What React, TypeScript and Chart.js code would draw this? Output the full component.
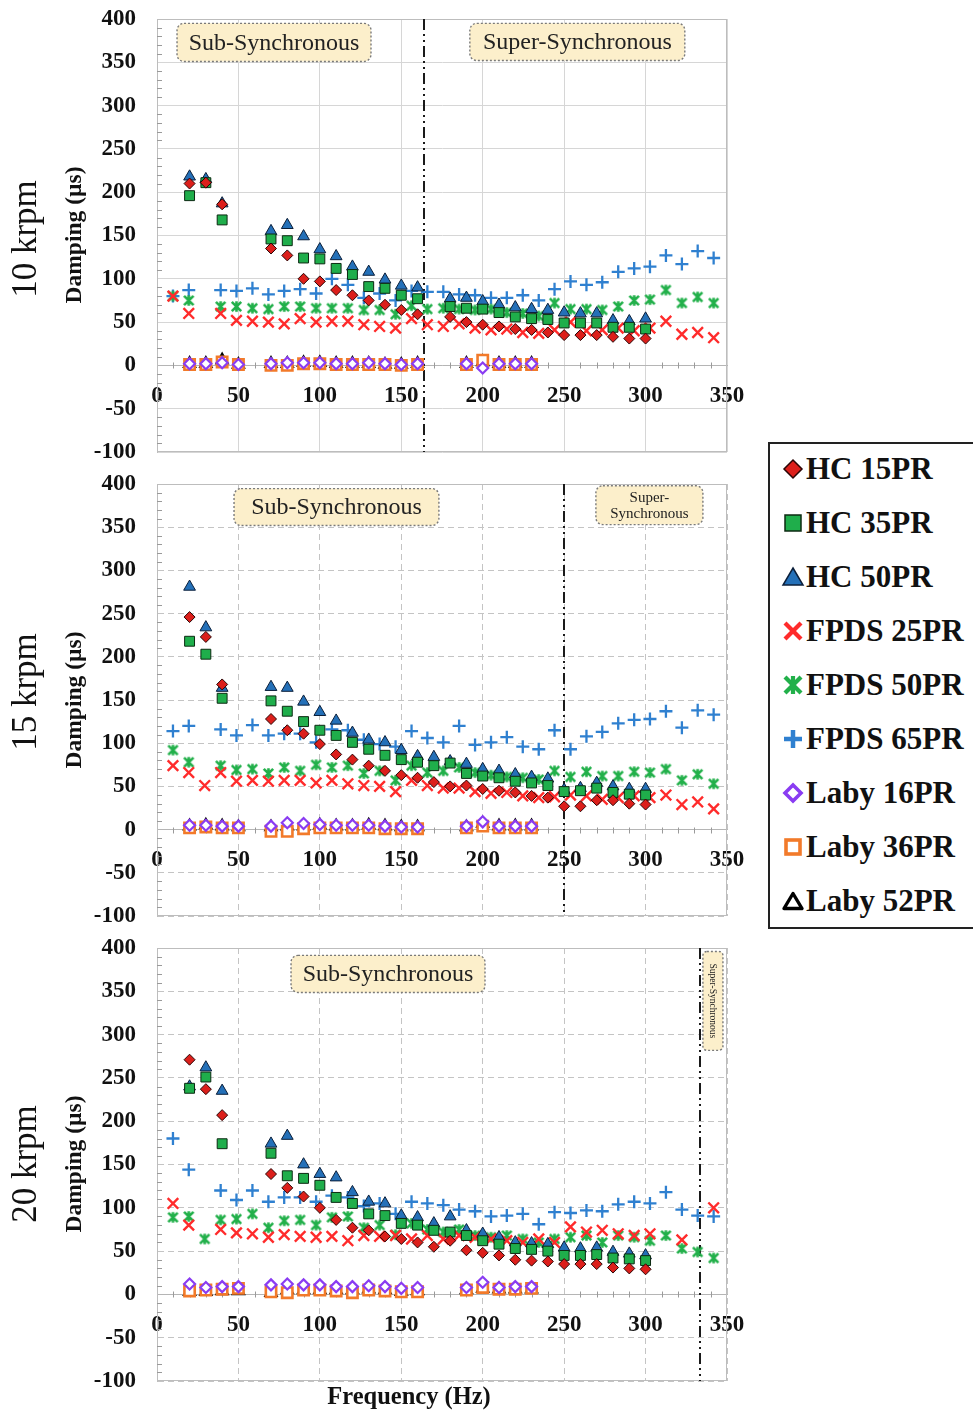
import React, { useEffect, useRef } from 'react';
import { Chart, registerables } from 'chart.js';

Chart.register(...registerables);

const SERIF = '"Liberation Serif", "Times New Roman", Times, serif';

// ---------- frequencies (Hz) ----------
const HC_FREQ_10K = [20, 30, 40, 70, 80, 90, 100, 110, 120, 130, 140, 150, 160, 180, 190, 200, 210, 220, 230, 240, 250, 260, 270, 280, 290, 300];
const HC_FREQ_15K = [20, 30, 40, 70, 80, 90, 100, 110, 120, 130, 140, 150, 160, 170, 180, 190, 200, 210, 220, 230, 240, 250, 260, 270, 280, 290, 300];
const HC_FREQ_20K = [20, 30, 40, 70, 80, 90, 100, 110, 120, 130, 140, 150, 160, 170, 180, 190, 200, 210, 220, 230, 240, 250, 260, 270, 280, 290, 300];
const FPDS_FREQ = [9.8, 19.5, 29.3, 39.1, 48.8, 58.6, 68.4, 78.1, 87.9, 97.7, 107.4, 117.2, 127.0, 136.7, 146.5, 156.3, 166.0, 175.8, 185.5, 195.3, 205.1, 214.8, 224.6, 234.4, 244.1, 253.9, 263.7, 273.4, 283.2, 293.0, 302.7, 312.5, 322.3, 332.0, 341.8];
const LABY_FREQ = [20, 30, 40, 50, 70, 80, 90, 100, 110, 120, 130, 140, 150, 160, 190, 200, 210, 220, 230];

// ---------- 10 krpm damping (µs) ----------
const HC15_10K = [210, 211, 186, 135, 127, 100, 97, 87, 81, 75, 70, 64, 59, 56, 50, 47, 45, 42, 41, 38, 35, 35, 35, 33, 31, 31];
const HC35_10K = [196, 211, 168, 146, 144, 124, 123, 112, 105, 91, 89, 81, 77, 68, 66, 65, 61, 56, 54, 53, 49, 49, 49, 44, 44, 42];
const HC50_10K = [218, 215, 187, 155, 162, 149, 134, 126, 114, 108, 99, 92, 90, 77, 78, 74, 70, 67, 65, 64, 61, 60, 60, 52, 51, 54];
const F25_10K = [80, 60, null, 60, 52, 51, 50, 48, 54, 50, 51, 51, 47, 45, 43, 54, 47, 45, 48, 43, 41, 42, 38, 37, 41, 50, 40, 41, 43, 40, 43, 51, 36, 38, 32];
const F50_10K = [80, 75, null, 68, 68, 66, 65, 68, 68, 66, 66, 66, 64, 64, 59, 69, 65, 66, 65, 64, 65, 61, 60, 57, 72, 65, 65, 64, 68, 75, 76, 87, 72, 79, 72];
const F65_10K = [80, 87, null, 87, 86, 89, 82, 86, 88, 83, 100, 93, 78, 83, 75, 86, 85, 85, 82, 81, 78, 78, 81, 75, 88, 97, 93, 96, 108, 112, 114, 127, 117, 132, 124];
const L16_10K = [2, 2, 3, 1, 2, 3, 3, 3, 2, 2, 3, 2, 1, 2, 2, -3, 2, 2, 2];
const L36_10K = [1, 1, 4, 1, 0, 0, 2, 2, 1, 1, 1, 1, 0, 1, 1, 6, 1, 1, 1];
const L52_10K = [2, 2, 6, 1, 2, 2, 3, 3, 2, 2, 2, 1, 1, 2, 2, 4, 2, 2, 2];

// ---------- 15 krpm ----------
const HC15_15K = [246, 223, 168, 128, 115, 111, 99, 87, 81, 74, 68, 63, 60, 55, 50, 51, 47, 45, 43, 39, 37, 27, 27, 34, 34, 30, 29];
const HC35_15K = [218, 203, 152, 149, 137, 125, 115, 109, 101, 93, 86, 81, 78, 74, 77, 65, 62, 60, 56, 54, 51, 44, 45, 48, 43, 41, 40];
const HC50_15K = [281, 234, 164, 165, 164, 148, 136, 126, 112, 104, 101, 92, 85, 84, 79, 76, 70, 68, 64, 61, 59, 46, 48, 54, 50, 47, 47];
const F25_15K = [74, 66, 51, 66, 56, 57, 56, 57, 57, 54, 57, 53, 51, 50, 44, 57, 51, 48, 48, 44, 42, 43, 39, 37, 38, 40, 39, 35, 37, 39, 37, 40, 29, 32, 24];
const F50_15K = [92, 78, null, 74, 69, 70, 65, 72, 68, 75, 72, 74, 65, 68, 57, 74, 66, 68, 72, 66, 63, 61, 60, 58, 68, 61, 67, 62, 62, 67, 66, 70, 57, 64, 53];
const F65_15K = [114, 120, null, 116, 109, 121, 109, 111, 111, 101, 116, 115, 104, 99, 96, 114, 106, 101, 120, 98, 101, 107, 96, 93, 115, 93, 108, 113, 123, 127, 128, 137, 118, 138, 133];
const L16_15K = [5, 5, 4, 4, 4, 8, 7, 6, 5, 5, 5, 4, 3, 3, 4, 9, 4, 4, 4];
const L36_15K = [2, 3, 2, 2, -2, -2, 1, 2, 2, 2, 2, 1, 1, 1, 2, 4, 2, 2, 2];
const L52_15K = [4, 5, 4, 3, 3, 4, 4, 5, 4, 4, 5, 4, 3, 3, 3, 7, 4, 4, 4];

// ---------- 20 krpm ----------
const HC15_20K = [271, 237, 207, 139, 123, 113, 100, 86, 77, 74, 67, 64, 60, 55, 62, 51, 48, 45, 40, 39, 38, 35, 35, 35, 31, 30, 29];
const HC35_20K = [238, 251, 174, 163, 137, 134, 126, 112, 105, 93, 91, 82, 80, 74, 72, 68, 62, 58, 53, 52, 50, 45, 45, 46, 42, 41, 39];
const HC50_20K = [240, 262, 235, 174, 183, 150, 139, 135, 118, 107, 105, 91, 89, 82, 90, 74, 70, 66, 60, 59, 58, 54, 53, 54, 49, 47, 45];
const F25_20K = [105, 80, null, 75, 71, 70, 66, 69, 67, 66, 67, 62, 68, 67, 68, 64, 68, 64, 68, 66, 64, 62, 60, 64, 60, 78, 72, 74, 70, 68, 70, null, 63, null, 100];
const F50_20K = [89, 90, 64, 86, 87, 93, 77, 85, 86, 80, 89, 90, 77, 80, 69, 82, 75, 72, 75, 68, 66, 68, 64, 60, 64, 66, 68, 60, 68, 66, 62, 68, 53, 49, 42];
const F65_20K = [180, 144, null, 120, 109, 120, 107, 112, 112, 107, 114, 112, 102, 105, 93, 107, 105, 103, 98, 96, 90, 91, 93, 81, 95, 94, 97, 96, 104, 107, 105, 118, 98, 91, 90];
const L16_20K = [12, 8, 9, 9, 11, 12, 11, 11, 9, 9, 10, 9, 7, 8, 8, 14, 8, 9, 9];
const L36_20K = [4, 5, 6, 7, 3, 2, 5, 5, 4, 2, 5, 4, 3, 3, 5, 8, 6, 6, 7];
const L52_20K = [3, 3, 4, 4, 2, 5, 5, 5, 5, 5, 6, 5, 3, 4, 5, 7, 6, 6, 6];

const SERIES_LABELS = ['HC 15PR', 'HC 35PR', 'HC 50PR', 'FPDS 25PR', 'FPDS 50PR', 'FPDS 65PR', 'Laby 16PR', 'Laby 36PR', 'Laby 52PR'];
const SPEED_LABELS = ['10 krpm', '15 krpm', '20 krpm'];
const SYNC_FREQ = [164, 250, 333.3];

// ---------- styles ----------
const RED = '#dc1f1b';
const GREEN = '#1fae4b';
const BLUE = '#2470b8';
const X_RED = '#ff2b2b';
const STAR_GREEN = '#22b04a';
const PLUS_BLUE = '#2f80d0';
const PURPLE = '#8a3cf2';
const ORANGE = '#f27a2a';

function makeStar(color: string, size: number, lw: number) {
  const c = document.createElement('canvas');
  c.width = size;
  c.height = size;
  const g = c.getContext('2d')!;
  const m = lw / 2 + 0.5;
  g.strokeStyle = color;
  g.lineWidth = lw;
  g.lineCap = 'butt';
  g.beginPath();
  g.moveTo(m, m); g.lineTo(size - m, size - m);
  g.moveTo(size - m, m); g.lineTo(m, size - m);
  g.moveTo(size / 2, m - 0.5); g.lineTo(size / 2, size - m + 0.5);
  g.stroke();
  return c;
}

function seriesStyles(star: HTMLCanvasElement) {
  return [
    { pointStyle: 'rectRot', pointRadius: 5.5, backgroundColor: RED, borderColor: '#2a0505', borderWidth: 1 },
    { pointStyle: 'rect', pointRadius: 7, backgroundColor: GREEN, borderColor: '#0c2a12', borderWidth: 1 },
    { pointStyle: 'triangle', pointRadius: 6.8, backgroundColor: BLUE, borderColor: '#0b1f3a', borderWidth: 1 },
    { pointStyle: 'crossRot', pointRadius: 7.5, backgroundColor: X_RED, borderColor: X_RED, borderWidth: 2.4 },
    { pointStyle: star, pointRadius: 6, backgroundColor: STAR_GREEN, borderColor: STAR_GREEN, borderWidth: 2 },
    { pointStyle: 'cross', pointRadius: 6.5, backgroundColor: PLUS_BLUE, borderColor: PLUS_BLUE, borderWidth: 2.3 },
    { pointStyle: 'rectRot', pointRadius: 5.5, backgroundColor: '#ffffff', borderColor: PURPLE, borderWidth: 2.2 },
    { pointStyle: 'rect', pointRadius: 7.3, backgroundColor: '#ffffff', borderColor: ORANGE, borderWidth: 2.6 },
    { pointStyle: 'triangle', pointRadius: 6.3, backgroundColor: '#ffffff', borderColor: '#000000', borderWidth: 2.3 },
  ];
}

type AnnBox = { x0: number; x1: number; y0: number; y1: number; lines: string[]; size: number; vertical?: boolean };

const PANELS = [
  {
    top: 0, height: 470, padTop: 19, padBottom: 18, dashed: false, speedOffset: 220, xTitle: false,
    freq: [HC_FREQ_10K, HC_FREQ_10K, HC_FREQ_10K, FPDS_FREQ, FPDS_FREQ, FPDS_FREQ, LABY_FREQ, LABY_FREQ, LABY_FREQ],
    values: [HC15_10K, HC35_10K, HC50_10K, F25_10K, F50_10K, F65_10K, L16_10K, L36_10K, L52_10K],
    boxes: [
      { x0: 12.3, x1: 131.4, y0: 351, y1: 395, lines: ['Sub-Synchronous'], size: 24 },
      { x0: 192.1, x1: 324.1, y0: 352, y1: 395, lines: ['Super-Synchronous'], size: 24 },
    ] as AnnBox[],
  },
  {
    top: 465, height: 470, padTop: 19, padBottom: 19, dashed: true, speedOffset: 208, xTitle: false,
    freq: [HC_FREQ_15K, HC_FREQ_15K, HC_FREQ_15K, FPDS_FREQ, FPDS_FREQ, FPDS_FREQ, LABY_FREQ, LABY_FREQ, LABY_FREQ],
    values: [HC15_15K, HC35_15K, HC50_15K, F25_15K, F50_15K, F65_15K, L16_15K, L36_15K, L52_15K],
    boxes: [
      { x0: 47.3, x1: 173.1, y0: 352, y1: 394.7, lines: ['Sub-Synchronous'], size: 24 },
      { x0: 269.5, x1: 335.2, y0: 353, y1: 398, lines: ['Super-', 'Synchronous'], size: 15 },
    ] as AnnBox[],
  },
  {
    top: 929, height: 485, padTop: 19, padBottom: 33, dashed: true, speedOffset: 216, xTitle: true,
    freq: [HC_FREQ_20K, HC_FREQ_20K, HC_FREQ_20K, FPDS_FREQ, FPDS_FREQ, FPDS_FREQ, LABY_FREQ, LABY_FREQ, LABY_FREQ],
    values: [HC15_20K, HC35_20K, HC50_20K, F25_20K, F50_20K, F65_20K, L16_20K, L36_20K, L52_20K],
    boxes: [
      { x0: 82.3, x1: 201.4, y0: 348.7, y1: 391.5, lines: ['Sub-Synchronous'], size: 24 },
      { x0: 335.2, x1: 347.5, y0: 281.8, y1: 396, lines: ['Super-Synchronous'], size: 9.5, vertical: true },
    ] as AnnBox[],
  },
];

const decorPlugin = {
  id: 'decor',
  beforeDatasetsDraw(chart: any, _args: any, o: any) {
    const { ctx, chartArea: a, scales } = chart;
    const xs = scales.x;
    const ys = scales.y;
    ctx.save();
    ctx.setLineDash([]);
    ctx.lineWidth = 1;
    ctx.strokeStyle = '#bdbdbd';
    ctx.strokeRect(a.left + 0.5, a.top + 0.5, a.right - a.left - 1, a.bottom - a.top - 1);
    ctx.strokeStyle = '#9a9a9a';
    ctx.beginPath();
    for (let v = -90; v < 400; v += 10) {
      if (v % 50 === 0) continue;
      const py = Math.round(ys.getPixelForValue(v)) + 0.5;
      ctx.moveTo(a.left, py);
      ctx.lineTo(a.left + 5, py);
    }
    const y0 = Math.round(ys.getPixelForValue(0)) + 0.5;
    for (let v = 10; v < 350; v += 10) {
      if (v % 50 === 0) continue;
      const px = Math.round(xs.getPixelForValue(v)) + 0.5;
      ctx.moveTo(px, y0 - 3);
      ctx.lineTo(px, y0 + 3);
    }
    ctx.stroke();
    const sx = Math.round(xs.getPixelForValue(o.sync));
    ctx.setLineDash([11, 4, 2, 4, 2, 4]);
    ctx.lineWidth = 2;
    ctx.strokeStyle = '#1a1a1a';
    ctx.beginPath();
    ctx.moveTo(sx, a.top);
    ctx.lineTo(sx, a.bottom);
    ctx.stroke();
    ctx.restore();
  },
  afterDraw(chart: any, _args: any, o: any) {
    const { ctx, chartArea: a, scales } = chart;
    const xs = scales.x;
    const ys = scales.y;
    ctx.save();
    for (const b of o.boxes as AnnBox[]) {
      const x1 = xs.getPixelForValue(b.x0);
      const x2 = xs.getPixelForValue(b.x1);
      const y1 = ys.getPixelForValue(b.y1);
      const y2 = ys.getPixelForValue(b.y0);
      ctx.beginPath();
      ctx.roundRect(x1, y1, x2 - x1, y2 - y1, b.vertical ? 4 : 7);
      ctx.fillStyle = '#fcefcb';
      ctx.fill();
      ctx.setLineDash([2, 2]);
      ctx.lineWidth = 1.4;
      ctx.strokeStyle = '#7a7a7a';
      ctx.stroke();
      ctx.setLineDash([]);
      ctx.fillStyle = '#222';
      ctx.font = `${b.size}px ${SERIF}`;
      ctx.textAlign = 'center';
      ctx.textBaseline = 'middle';
      const cx = (x1 + x2) / 2;
      const cy = (y1 + y2) / 2;
      if (b.vertical) {
        ctx.save();
        ctx.translate(cx, cy);
        ctx.rotate(Math.PI / 2);
        ctx.fillText(b.lines[0], 0, 0);
        ctx.restore();
      } else {
        const lh = b.size * 1.1;
        b.lines.forEach((t, i) => {
          ctx.fillText(t, cx, cy + (i - (b.lines.length - 1) / 2) * lh + 1);
        });
      }
    }
    ctx.fillStyle = '#111';
    ctx.textAlign = 'center';
    ctx.textBaseline = 'middle';
    ctx.save();
    ctx.translate(27, a.top + o.speedOffset);
    ctx.rotate(-Math.PI / 2);
    ctx.font = `35px ${SERIF}`;
    ctx.fillText(o.speed, 0, 0);
    ctx.restore();
    ctx.save();
    ctx.translate(75, a.top + 216);
    ctx.rotate(-Math.PI / 2);
    ctx.font = `bold 23.5px ${SERIF}`;
    ctx.fillText('Damping (µs)', 0, 0);
    ctx.restore();
    if (o.xTitle) {
      ctx.font = `bold 24.5px ${SERIF}`;
      ctx.fillText('Frequency (Hz)', 409, a.bottom + 17);
    }
    ctx.restore();
  },
};

function Panel({ index }: { index: number }) {
  const ref = useRef<HTMLCanvasElement>(null);
  const p = PANELS[index];
  useEffect(() => {
    const star = makeStar(STAR_GREEN, 13, 2.6);
    const styles = seriesStyles(star);
    const gridColor = p.dashed ? '#c4c4c4' : '#d6d6d6';
    const datasets = SERIES_LABELS.map((label, i) => ({
      label,
      data: p.freq[i]
        .map((x, j) => ({ x, y: p.values[i][j] }))
        .filter((d) => d.y !== null && d.y !== undefined),
      showLine: false,
      ...styles[i],
    }));
    const chart = new Chart(ref.current as HTMLCanvasElement, {
      type: 'scatter',
      data: { datasets: datasets as any },
      options: {
        responsive: false,
        animation: false,
        events: [],
        layout: { padding: { left: 0, right: 33, top: p.padTop, bottom: p.padBottom } },
        plugins: {
          legend: { display: false },
          tooltip: { enabled: false },
          decor: { sync: SYNC_FREQ[index], speed: SPEED_LABELS[index], speedOffset: p.speedOffset, boxes: p.boxes, xTitle: p.xTitle },
        } as any,
        scales: {
          x: {
            type: 'linear',
            min: 0,
            max: 350,
            position: { y: 0 } as any,
            afterFit: (s: any) => { s.height = 0; s.paddingLeft = 0; s.paddingRight = 0; },
            ticks: { stepSize: 50, color: '#111', padding: 17, maxRotation: 0, autoSkip: false, font: { family: SERIF, size: 23, weight: 'bold' } },
            grid: { color: gridColor, lineWidth: 1, drawTicks: false },
            border: { display: true, color: '#b5b5b5', width: 1, dash: p.dashed ? [6, 4] : [] },
          },
          y: {
            type: 'linear',
            min: -100,
            max: 400,
            afterFit: (s: any) => { s.width = 157; s.paddingTop = 0; s.paddingBottom = 0; },
            ticks: { stepSize: 50, color: '#111', padding: 21, font: { family: SERIF, size: 23, weight: 'bold' } },
            grid: { color: gridColor, lineWidth: 1, drawTicks: false },
            border: { display: true, color: '#bdbdbd', width: 1, dash: p.dashed ? [6, 4] : [] },
          },
        },
      },
      plugins: [decorPlugin],
    });
    return () => chart.destroy();
  }, []);
  return (
    <canvas
      ref={ref}
      width={760}
      height={p.height}
      style={{ position: 'absolute', left: 0, top: p.top, width: 760, height: p.height }}
    />
  );
}

function LegendMarker({ i }: { i: number }) {
  const s = 24;
  let el: any = null;
  switch (i) {
    case 0: el = <polygon points="12,3 21,12 12,21 3,12" fill={RED} stroke="#2a0505" strokeWidth={1.5} />; break;
    case 1: el = <rect x={4} y={4} width={16} height={16} fill={GREEN} stroke="#0c2a12" strokeWidth={1.5} />; break;
    case 2: el = <polygon points="12,3 22,20 2,20" fill={BLUE} stroke="#0b1f3a" strokeWidth={1.5} />; break;
    case 3: el = (<g stroke={X_RED} strokeWidth={4.2}><line x1={4} y1={4} x2={20} y2={20} /><line x1={20} y1={4} x2={4} y2={20} /></g>); break;
    case 4: el = (<g stroke={STAR_GREEN} strokeWidth={4.2}><line x1={4} y1={4} x2={20} y2={20} /><line x1={20} y1={4} x2={4} y2={20} /><line x1={12} y1={3} x2={12} y2={21} /></g>); break;
    case 5: el = (<g stroke={PLUS_BLUE} strokeWidth={4.5}><line x1={12} y1={3} x2={12} y2={21} /><line x1={3} y1={12} x2={21} y2={12} /></g>); break;
    case 6: el = <polygon points="12,4 20,12 12,20 4,12" fill="#fff" stroke={PURPLE} strokeWidth={3.6} />; break;
    case 7: el = <rect x={5} y={5} width={14} height={14} fill="#fff" stroke={ORANGE} strokeWidth={3.6} />; break;
    default: el = <polygon points="12,4.5 21,19.5 3,19.5" fill="#fff" stroke="#000" strokeWidth={3.4} strokeLinejoin="round" />;
  }
  return (
    <svg width={s} height={s} viewBox="0 0 24 24" style={{ position: 'absolute', left: 11, top: -12 }}>
      {el}
    </svg>
  );
}

function Legend() {
  return (
    <div style={{ position: 'absolute', left: 768, top: 442, width: 205, height: 487, overflow: 'hidden' }}>
      <div style={{ position: 'absolute', left: 0, top: 0, width: 230, height: 487, border: '2px solid #222', boxSizing: 'border-box', background: '#fff' }}>
        {SERIES_LABELS.map((label, i) => (
          <div key={label} style={{ position: 'absolute', left: 0, top: 25 + 54 * i, width: 230, height: 0 }}>
            <LegendMarker i={i} />
            <span
              style={{
                position: 'absolute',
                left: 36,
                top: -18,
                height: 36,
                lineHeight: '36px',
                fontFamily: SERIF,
                fontWeight: 'bold',
                fontSize: 31,
                color: '#111',
                whiteSpace: 'nowrap',
              }}
            >
              {label}
            </span>
          </div>
        ))}
      </div>
    </div>
  );
}

export default function App() {
  return (
    <div style={{ position: 'absolute', left: 0, top: 0, width: 973, height: 1414, overflow: 'hidden', background: '#fff' }}>
      <Panel index={0} />
      <Panel index={1} />
      <Panel index={2} />
      <Legend />
    </div>
  );
}
